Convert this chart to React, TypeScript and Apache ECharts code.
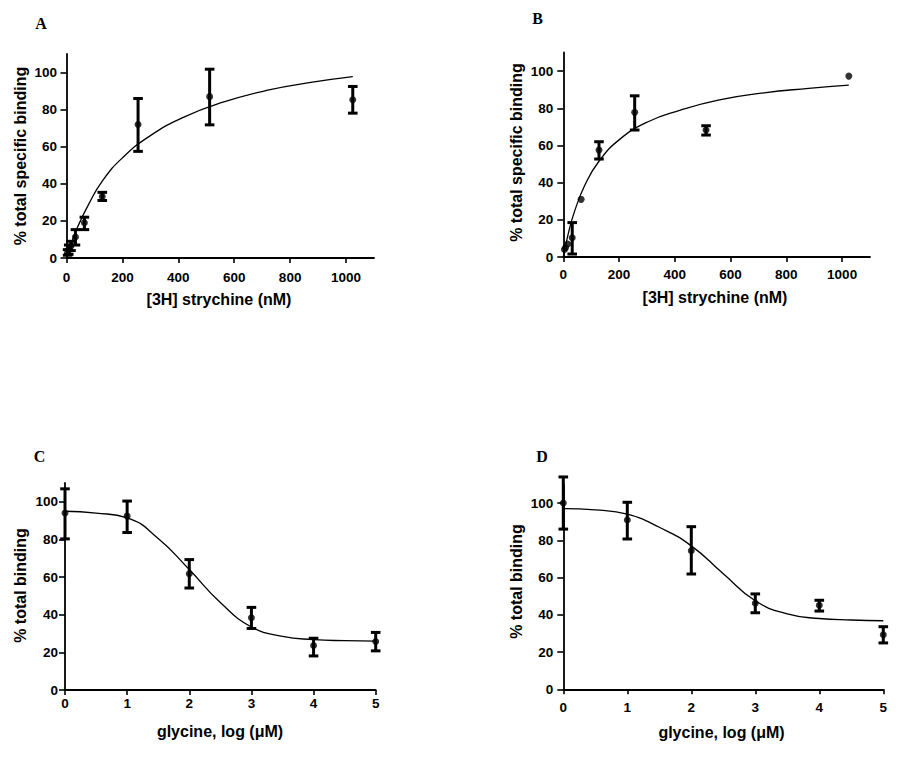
import React, { useEffect, useRef } from "react";
import * as echarts from "echarts";

// ---- Panel A: [3H] strychnine saturation (nM) ----
const aConc = [4, 8, 16, 32, 64, 128, 256, 512, 1024];
const aMean = [3.0, 4.5, 6.5, 11.3, 19.0, 33.2, 72.0, 87.0, 85.3];
const aLow = [1.5, 2.0, 4.0, 7.0, 15.3, 31.0, 57.5, 71.8, 78.1];
const aHigh = [4.5, 7.0, 9.0, 15.3, 22.0, 35.4, 86.0, 101.8, 92.5];
const aFitX = [0, 16, 40, 80, 128, 200, 300, 420, 560, 720, 880, 1024];
const aFitY = [0, 7.4, 16.8, 29.2, 41.5, 54, 66, 76, 84, 90.5, 94.8, 97.8];

// ---- Panel B ----
const bConc = [4, 8, 16, 32, 64, 128, 256, 512, 1024];
const bMean = [4.0, 5.0, 7.0, 10.4, 31.0, 57.5, 77.8, 68.3, 97.3];
const bLow = [null, null, null, 1.6, null, 52.7, 68.3, 65.6, null];
const bHigh = [null, null, null, 18.5, null, 62.0, 86.7, 70.6, null];
const bFitX = [0, 16, 40, 80, 128, 200, 300, 420, 560, 720, 880, 1024];
const bFitY = [0, 11.4, 24.4, 39.5, 51.5, 63, 72.5, 79, 84.5, 88.3, 90.7, 92.5];

// ---- Panel C: glycine, log (uM) ----
const cLog = [0, 1, 2, 3, 4, 5];
const cMean = [94.1, 92.4, 61.8, 38.4, 23.6, 25.8];
const cLow = [80.3, 83.7, 54.2, 32.7, 18.1, 20.8];
const cHigh = [106.9, 100.4, 69.3, 43.9, 27.5, 30.6];
const cFitX = [0, 0.5, 1, 1.5, 2, 2.5, 3, 3.5, 4, 4.5, 5];
const cFitY = [95, 94, 91.5, 80.5, 64, 46.5, 33.5, 28.5, 26.8, 26.2, 26];

// ---- Panel D ----
const dLog = [0, 1, 2, 3, 4, 5];
const dMean = [100, 90.9, 74.4, 46.2, 45.1, 29.3];
const dLow = [86, 80.7, 61.9, 41.1, 42, 24.9];
const dHigh = [114, 100.4, 87.3, 51.2, 47.8, 33.6];
const dFitX = [0, 0.5, 1, 1.5, 2, 2.5, 3, 3.5, 4, 4.5, 5];
const dFitY = [97, 96.3, 94, 87, 77, 62, 47.5, 40.5, 38, 37.2, 36.8];

// ---- tick labels ----
const concTicks = [0, 200, 400, 600, 800, 1000];
const logTicks = [0, 1, 2, 3, 4, 5];
const pctTicks = [0, 20, 40, 60, 80, 100];

const SANS = "'Liberation Sans', Arial, sans-serif";
const SERIF = "'Liberation Serif', 'Times New Roman', serif";

function zip(xs: number[], ys: (number | null)[]) {
  return xs.map((x, i) => [x, ys[i]]);
}
function errData(xs: number[], lo: (number | null)[], hi: (number | null)[]) {
  const out: number[][] = [];
  xs.forEach((x, i) => {
    if (lo[i] != null && hi[i] != null) out.push([x, lo[i] as number, hi[i] as number]);
  });
  return out;
}

function renderErr(_params: any, api: any) {
  const x = api.value(0);
  const top = api.coord([x, api.value(2)]);
  const bot = api.coord([x, api.value(1)]);
  const w = 4.8;
  const st = { stroke: "#000", lineWidth: 3 };
  return {
    type: "group",
    children: [
      { type: "line", shape: { x1: top[0], y1: top[1], x2: bot[0], y2: bot[1] }, style: st },
      { type: "line", shape: { x1: top[0] - w, y1: top[1], x2: top[0] + w, y2: top[1] }, style: st },
      { type: "line", shape: { x1: bot[0] - w, y1: bot[1], x2: bot[0] + w, y2: bot[1] }, style: st },
    ],
  };
}

export default function App() {
  const ref = useRef<HTMLDivElement>(null);
  useEffect(() => {
    if (!ref.current) return;
    const chart = echarts.init(ref.current, undefined, { renderer: "svg" });

    const grids = [
      { left: 66.5, top: 54, width: 307.5, height: 204 },
      { left: 563.3, top: 52.5, width: 306.7, height: 204.5 },
      { left: 65, top: 483, width: 310.7, height: 207 },
      { left: 563.3, top: 484.4, width: 320, height: 204.9 },
    ];
    const xMargins = [12.5, 10, 6.5, 11];
    const yMargins = [9.5, 10, 7, 10];

    const axisCommon = (isX: boolean, margin: number, ticks: number[]) => ({
      axisLine: { show: true, onZero: false, lineStyle: { color: "#000", width: 1.8 } },
      axisTick: {
        show: true,
        inside: false,
        length: isX ? 5 : 6,
        lineStyle: { color: "#000", width: 1.6 },
        customValues: ticks,
      },
      axisLabel: {
        show: true,
        margin,
        color: "#000",
        fontFamily: SANS,
        fontWeight: "bold",
        fontSize: 13.5,
        customValues: ticks,
        formatter: (v: number) => String(v),
      },
      splitLine: { show: false },
    });

    const xAxes = [
      { type: "value", gridIndex: 0, min: 0, max: 1100, ...axisCommon(true, xMargins[0], concTicks) },
      { type: "value", gridIndex: 1, min: 0, max: 1100, ...axisCommon(true, xMargins[1], concTicks) },
      { type: "value", gridIndex: 2, min: 0, max: 5, ...axisCommon(true, xMargins[2], logTicks) },
      { type: "value", gridIndex: 3, min: 0, max: 5, ...axisCommon(true, xMargins[3], logTicks) },
    ];
    const yAxes = [0, 1, 2, 3].map((i) => ({
      type: "value",
      gridIndex: i,
      min: 0,
      max: 110,
      ...axisCommon(false, yMargins[i], pctTicks),
    }));

    const panels = [
      { x: aConc, m: aMean, lo: aLow, hi: aHigh, fx: aFitX, fy: aFitY },
      { x: bConc, m: bMean, lo: bLow, hi: bHigh, fx: bFitX, fy: bFitY },
      { x: cLog, m: cMean, lo: cLow, hi: cHigh, fx: cFitX, fy: cFitY },
      { x: dLog, m: dMean, lo: dLow, hi: dHigh, fx: dFitX, fy: dFitY },
    ];

    const series: any[] = [];
    panels.forEach((p, i) => {
      series.push({
        type: "line",
        xAxisIndex: i,
        yAxisIndex: i,
        data: zip(p.fx, p.fy),
        smooth: 0.5,
        symbol: "none",
        lineStyle: { color: "#000", width: 1.3 },
        clip: false,
        z: 2,
      });
      series.push({
        type: "custom",
        xAxisIndex: i,
        yAxisIndex: i,
        data: errData(p.x, p.lo, p.hi),
        encode: { x: 0, y: [1, 2] },
        renderItem: renderErr,
        clip: false,
        z: 3,
      });
      series.push({
        type: "scatter",
        xAxisIndex: i,
        yAxisIndex: i,
        data: zip(p.x, p.m),
        symbol: "circle",
        symbolSize: 7,
        itemStyle: { color: "#000" },
        clip: false,
        z: 4,
      });
    });

    const titleStyle = (text: string) => ({
      text,
      fill: "#000",
      font: `bold 16px ${SANS}`,
      textAlign: "center",
      textVerticalAlign: "middle",
    });
    const letterStyle = (text: string) => ({
      text,
      fill: "#000",
      font: `bold 16px ${SERIF}`,
      textAlign: "center",
      textVerticalAlign: "middle",
    });

    const graphic = [
      { type: "text", x: 41, y: 23.5, style: letterStyle("A") },
      { type: "text", x: 537.5, y: 18, style: letterStyle("B") },
      { type: "text", x: 39.5, y: 456, style: letterStyle("C") },
      { type: "text", x: 542, y: 456, style: letterStyle("D") },
      { type: "text", x: 219, y: 299, style: titleStyle("[3H] strychine (nM)") },
      { type: "text", x: 715, y: 297, style: titleStyle("[3H] strychine (nM)") },
      { type: "text", x: 220, y: 731.5, style: titleStyle("glycine, log (\u03bcM)") },
      { type: "text", x: 721.5, y: 732.5, style: titleStyle("glycine, log (\u03bcM)") },
      { type: "text", x: 20.5, y: 156, rotation: Math.PI / 2, style: titleStyle("% total specific binding") },
      { type: "text", x: 516.5, y: 152.5, rotation: Math.PI / 2, style: titleStyle("% total specific binding") },
      { type: "text", x: 20.5, y: 585.5, rotation: Math.PI / 2, style: titleStyle("% total binding") },
      { type: "text", x: 516.5, y: 581.5, rotation: Math.PI / 2, style: titleStyle("% total binding") },
    ];

    chart.setOption({
      animation: false,
      backgroundColor: "#fff",
      grid: grids,
      xAxis: xAxes,
      yAxis: yAxes,
      series,
      graphic,
    });
    return () => chart.dispose();
  }, []);

  return (
    <div
      ref={ref}
      style={{ position: "absolute", left: 0, top: 0, width: 909, height: 758, background: "#fff" }}
    />
  );
}
